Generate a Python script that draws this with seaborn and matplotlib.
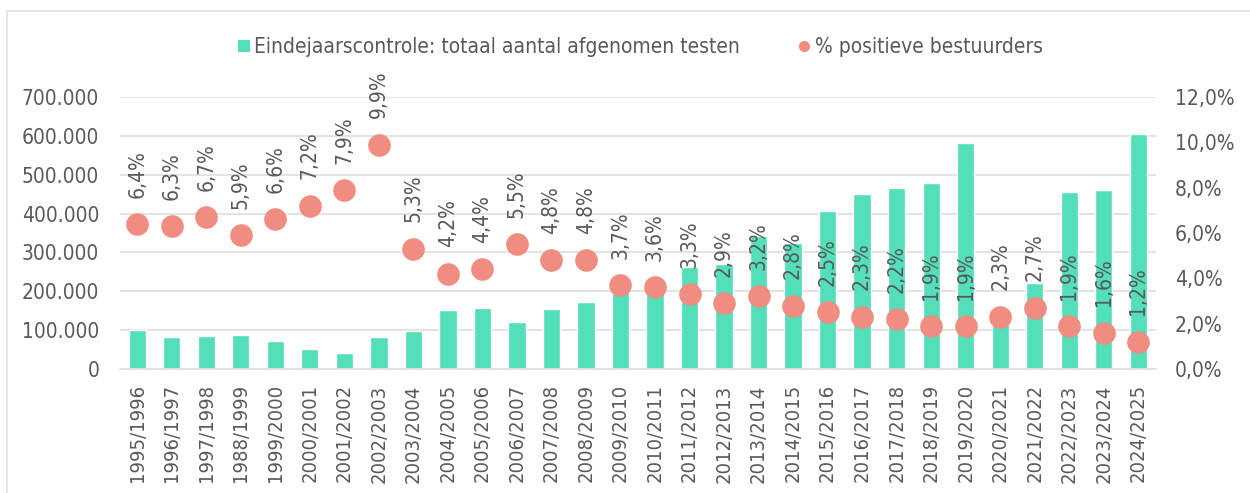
import pandas as pd
import numpy as np
import matplotlib.pyplot as plt
import seaborn as sns
from matplotlib.lines import Line2D
from matplotlib.ticker import FuncFormatter

# Data
seasons = ['1995/1996', '1996/1997', '1997/1998', '1988/1999', '1999/2000',
           '2000/2001', '2001/2002', '2002/2003', '2003/2004', '2004/2005',
           '2005/2006', '2006/2007', '2007/2008', '2008/2009', '2009/2010',
           '2010/2011', '2011/2012', '2012/2013', '2013/2014', '2014/2015',
           '2015/2016', '2016/2017', '2017/2018', '2018/2019', '2019/2020',
           '2020/2021', '2021/2022', '2022/2023', '2023/2024', '2024/2025']
tests = [100500, 83000, 86000, 88000, 72000, 51000, 40000, 82000, 98000, 153000,
         156000, 121000, 155000, 172000, 205000, 200000, 262000, 270000, 342000, 323000,
         407000, 450000, 467000, 478000, 581000, 135000, 221000, 455000, 460000, 605000]
pct_positive = [6.4, 6.3, 6.7, 5.9, 6.6, 7.2, 7.9, 9.9, 5.3, 4.2,
                4.4, 5.5, 4.8, 4.8, 3.7, 3.6, 3.3, 2.9, 3.2, 2.8,
                2.5, 2.3, 2.2, 1.9, 1.9, 2.3, 2.7, 1.9, 1.6, 1.2]

bar_label = 'Eindejaarscontrole: totaal aantal afgenomen testen'
dot_label = '% positieve bestuurders'

df = pd.DataFrame({'season': seasons, 'tests': tests, 'pct': pct_positive})

bar_color = '#52DFB9'
dot_color = '#F08C80'
text_color = '#595959'
grid_color = '#E0E0E0'

sns.set_style('white')
plt.rcParams['font.family'] = ['DejaVu Sans']
plt.rcParams['font.stretch'] = 'condensed'
fs = 15

fig = plt.figure(figsize=(12.5, 4.93), dpi=100)
ax = fig.add_axes([120 / 1250, 1 - 369 / 493, 1035.5 / 1250, 272 / 493])
ax2 = ax.twinx()

sns.barplot(data=df, x='season', y='tests', color=bar_color, saturation=1,
            width=0.5, ax=ax, zorder=2)
sns.scatterplot(data=df, x='season', y='pct', color=dot_color, s=265,
                linewidth=0, ax=ax2, zorder=3, legend=False)

ax.set_ylim(0, 700000)
ax2.set_ylim(0, 12)
ax.set_xlim(-0.5, len(seasons) - 0.5)
ax.set_yticks(np.arange(0, 700001, 100000))
ax2.set_yticks(np.arange(0, 12.1, 2))
ax.yaxis.set_major_formatter(FuncFormatter(lambda v, p: f'{int(v):,}'.replace(',', '.')))
ax2.yaxis.set_major_formatter(FuncFormatter(lambda v, p: f'{v:.1f}%'.replace('.', ',')))

ax.grid(axis='y', color=grid_color, linewidth=1.3, zorder=0)
ax.set_axisbelow(True)
for a in (ax, ax2):
    for s in a.spines.values():
        s.set_visible(False)
    a.set_xlabel('')
    a.set_ylabel('')
ax.spines['bottom'].set_visible(True)
ax.spines['bottom'].set_color(grid_color)
ax.spines['bottom'].set_linewidth(1.3)

ax.tick_params(axis='x', length=0, pad=11, labelsize=14.5, labelcolor=text_color, labelrotation=90)
ax.tick_params(axis='y', length=0, pad=15, labelsize=fs, labelcolor=text_color)
ax2.tick_params(axis='y', length=0, pad=14, labelsize=fs, labelcolor=text_color)

# percentage labels above the dots
for i, v in enumerate(pct_positive):
    ax2.annotate(f'{v:.1f}%'.replace('.', ','), (i, v), xytext=(0, 19),
                 textcoords='offset points', rotation=90, ha='center', va='bottom',
                 fontsize=fs, color=text_color, zorder=4)

handles = [Line2D([], [], marker='s', linestyle='none', markersize=8,
                  markerfacecolor=bar_color, markeredgewidth=0),
           Line2D([], [], marker='o', linestyle='none', markersize=8,
                  markerfacecolor=dot_color, markeredgewidth=0)]
fig.legend(handles, [bar_label, dot_label], loc='center', ncol=2,
           bbox_to_anchor=(638 / 1250, 1 - 47 / 493), frameon=False,
           fontsize=fs, labelcolor=text_color, handletextpad=0.0,
           handlelength=1.0, columnspacing=2.6)

# light chart border (top and left edges visible)
fig.add_artist(Line2D([7 / 1250, 1], [1 - 11 / 493, 1 - 11 / 493],
                      transform=fig.transFigure, color=grid_color, linewidth=1.2))
fig.add_artist(Line2D([7 / 1250, 7 / 1250], [0, 1 - 11 / 493],
                      transform=fig.transFigure, color=grid_color, linewidth=1.2))

fig.savefig('out.png', dpi=100, facecolor='white')
